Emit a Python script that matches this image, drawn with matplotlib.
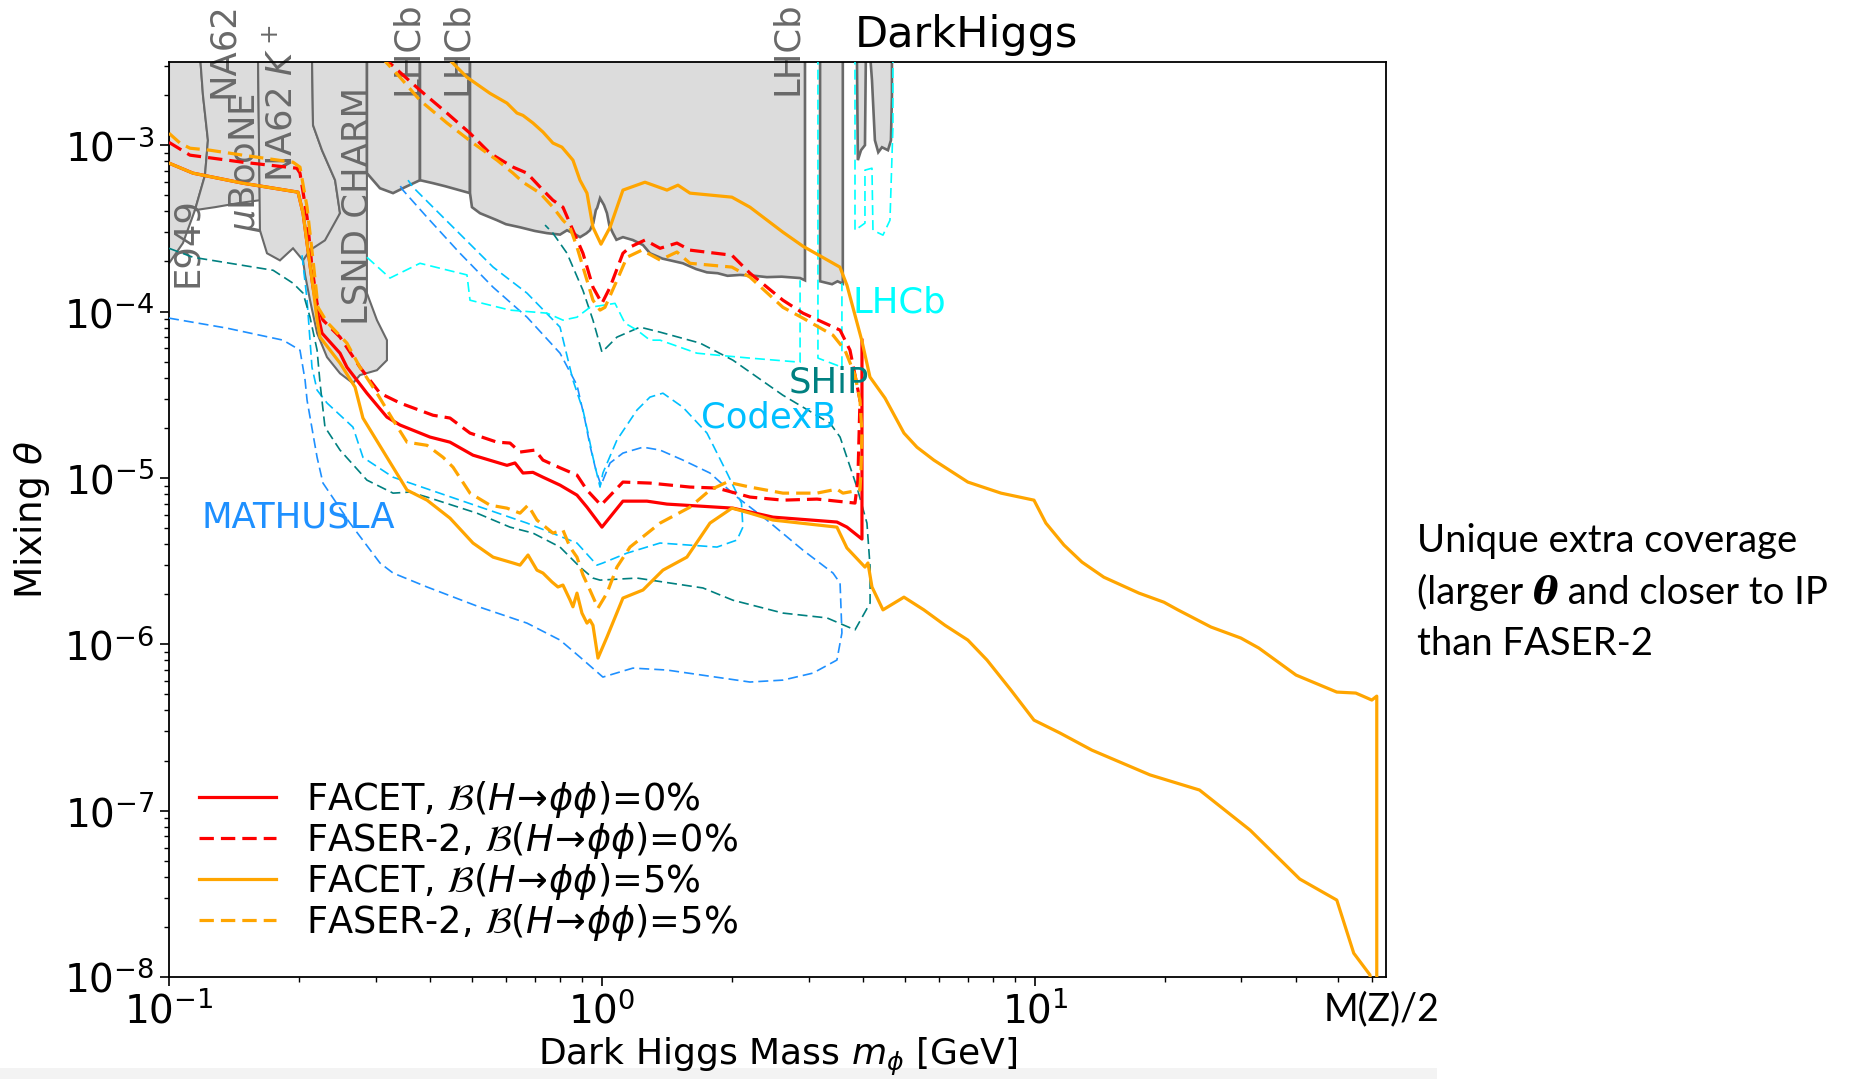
import matplotlib
matplotlib.use("Agg")
import matplotlib.pyplot as plt
from matplotlib.patches import Rectangle

# ---------------- existing limits (grey) ----------------
e949_m = [0.1, 0.1179, 0.1198, 0.1230, 0.1211, 0.1148, 0.1077, 0.1]
e949_th = [3.5e-3, 3.5e-3, 2.0e-3, 1.07e-3, 6.6e-4, 4.07e-4, 2.58e-4, 1.95e-4]

uboone_m = [0.1179, 0.1605, 0.1622, 0.1443, 0.1277, 0.1148, 0.1211, 0.1230, 0.1198]
uboone_th = [3.5e-3, 3.5e-3, 4.67e-4, 4.48e-4, 4.24e-4, 4.07e-4, 6.6e-4, 1.07e-3, 2.0e-3]

na62_m = [0.1605, 0.2139, 0.2151, 0.2256, 0.2419, 0.2483, 0.2393, 0.2198, 0.204, 0.1934,
          0.1804, 0.1684, 0.1622]
na62_th = [3.5e-3, 3.5e-3, 1.32e-3, 9.33e-4, 6.16e-4, 3.90e-4, 2.96e-4, 2.34e-4, 2.03e-4,
           2.40e-4, 2.03e-4, 2.24e-4, 3.08e-4]

lsnd_m = [0.2139, 0.2865, 0.2865, 0.3022, 0.3187, 0.3187, 0.3022, 0.2761, 0.266, 0.2483,
          0.2317, 0.2198, 0.2117, 0.2062, 0.204, 0.2117, 0.2292, 0.2483, 0.2419, 0.2256, 0.2151]
lsnd_th = [3.5e-3, 3.5e-3, 1.29e-4, 8.88e-5, 6.73e-5, 5.10e-5, 4.44e-5, 4.15e-5, 3.71e-5,
           4.25e-5, 5.32e-5, 7.42e-5, 1.17e-4, 1.66e-4, 2.03e-4, 2.34e-4, 2.68e-4, 3.90e-4,
           6.16e-4, 9.33e-4, 1.32e-3]

lhcb1_m = [0.2865, 0.3799, 0.3799, 0.3508, 0.3292, 0.3071, 0.2865]
lhcb1_th = [3.5e-3, 3.5e-3, 6.16e-4, 5.59e-4, 5.15e-4, 5.51e-4, 6.79e-4]

lhcb2_m = [0.3799, 0.4957, 0.4957, 0.434, 0.4073, 0.3799]
lhcb2_th = [3.5e-3, 3.5e-3, 5.15e-4, 5.67e-4, 5.91e-4, 6.16e-4]

lhcb3_m = [0.4957, 2.944, 2.944, 2.868, 2.6, 2.404, 2.25, 2.084, 1.95, 1.85, 1.748, 1.65, 1.538,
           1.45, 1.38, 1.291, 1.244, 1.179, 1.118, 1.08, 1.060, 1.04, 1.027, 1.011, 0.9898,
           0.975, 0.968, 0.955, 0.938, 0.92, 0.8899, 0.86, 0.8304, 0.80, 0.7464, 0.70, 0.6467,
           0.60, 0.5722, 0.5228, 0.5009, 0.4957]
lhcb3_th = [3.5e-3, 3.5e-3, 1.54e-4, 1.59e-4, 1.62e-4, 1.61e-4, 1.64e-4, 1.66e-4, 1.64e-4,
            1.70e-4, 1.72e-4, 1.80e-4, 1.95e-4, 2.02e-4, 2.08e-4, 2.24e-4, 2.51e-4, 2.69e-4,
            2.80e-4, 2.70e-4, 2.96e-4, 3.3e-4, 3.90e-4, 4.36e-4, 4.80e-4, 4.2e-4, 4.07e-4,
            3.4e-4, 3.08e-4, 2.95e-4, 2.80e-4, 2.95e-4, 3.08e-4, 2.90e-4, 2.96e-4, 3.05e-4,
            3.21e-4, 3.35e-4, 3.54e-4, 3.90e-4, 4.24e-4, 5.15e-4]

lhcb4_m = [3.19, 3.60, 3.60, 3.50, 3.40, 3.19]
lhcb4_th = [3.5e-3, 3.5e-3, 1.47e-4, 1.52e-4, 1.46e-4, 1.52e-4]

lhcb5_m = [3.88, 4.07, 4.05, 3.966, 3.90]
lhcb5_th = [3.5e-3, 3.5e-3, 1.0e-3, 9.33e-4, 8.13e-4]

lhcb6_m = [4.162, 4.675, 4.675, 4.65, 4.577, 4.434, 4.347, 4.27, 4.204]
lhcb6_th = [3.5e-3, 3.5e-3, 2.0e-3, 1.07e-3, 9.33e-4, 9.72e-4, 9.07e-4, 1.07e-3, 2.46e-3]

# ---------------- future experiments (thin dashed) ----------------
math_m = [0.1, 0.136, 0.1834, 0.2007, 0.2062, 0.2084, 0.2198, 0.2268, 0.2618, 0.3071, 0.3292,
          0.3944, 0.5228, 0.6713, 0.8001, 0.8899, 1.005, 1.179, 1.413, 2.197, 2.618, 3.071,
          3.489, 3.583, 3.548, 3.417, 2.912, 2.404, 2.05, 1.776, 1.538, 1.362, 1.244, 1.118,
          1.044, 0.9948, 0.9685, 0.938, 0.9135, 0.8756, 0.8001, 0.6713, 0.5605, 0.47, 0.3944,
          0.3469, 0.338]
math_th = [9.13e-5, 7.95e-5, 6.73e-5, 5.86e-5, 3.87e-5, 2.93e-5, 1.33e-5, 9.31e-6, 5.35e-6,
           3.08e-6, 2.68e-6, 2.21e-6, 1.67e-6, 1.34e-6, 1.06e-6, 8.37e-7, 6.35e-7, 7.19e-7,
           7.00e-7, 5.93e-7, 6.09e-7, 6.71e-7, 8.04e-7, 1.17e-6, 2.33e-6, 2.68e-6, 3.68e-6,
           5.58e-6, 7.67e-6, 1.07e-5, 1.28e-5, 1.47e-5, 1.53e-5, 1.41e-5, 1.23e-5, 9.05e-6,
           1.11e-5, 1.57e-5, 2.23e-5, 3.61e-5, 5.62e-5, 9.25e-5, 1.40e-4, 2.24e-4, 3.69e-4,
           5.37e-4, 5.99e-4]

codex_m = [0.2029, 0.2084, 0.2139, 0.2198, 0.2317, 0.266, 0.2805, 0.3292, 0.47, 0.6713, 0.8756,
           0.9738, 1.005, 1.142, 1.362, 1.844, 2.05, 2.116, 2.10, 1.945, 1.748, 1.538, 1.383,
           1.291, 1.205, 1.083, 1.005, 0.9898, 0.9533, 0.9284, 0.9039, 0.857, 0.8001, 0.6713,
           0.5605, 0.4295, 0.3661, 0.3565]
codex_th = [2.18e-4, 1.17e-4, 4.63e-5, 3.37e-5, 2.82e-5, 2.02e-5, 1.33e-5, 1.01e-5, 7.35e-6,
            5.35e-6, 4.06e-6, 2.99e-6, 3.08e-6, 3.53e-6, 4.06e-6, 3.84e-6, 4.23e-6, 5.06e-6,
            7.06e-6, 1.07e-5, 1.86e-5, 2.66e-5, 3.23e-5, 3.06e-5, 2.56e-5, 1.69e-5, 1.07e-5,
            8.81e-6, 1.33e-5, 1.86e-5, 2.56e-5, 3.87e-5, 8.06e-5, 1.29e-4, 1.85e-4, 3.69e-4,
            5.59e-4, 6.16e-4]

ship_m = [0.1, 0.1136, 0.174, 0.1934, 0.204, 0.2117, 0.2198, 0.2233, 0.2292, 0.2483, 0.2865,
          0.3292, 0.3602, 0.3944, 0.5143, 0.6132, 0.6927, 0.8001, 0.8899, 0.9533, 0.9898, 1.205,
          1.711, 2.007, 2.618, 3.31, 3.841, 4.162, 4.162, 4.093, 3.88, 3.548, 3.364, 2.618,
          2.007, 1.685, 1.362, 1.224, 1.083, 1.0, 0.9533, 0.9039, 0.8304, 0.7704, 0.7389]
ship_th = [2.40e-4, 2.12e-4, 1.77e-4, 1.48e-4, 1.29e-4, 9.25e-5, 5.86e-5, 3.71e-5, 2.02e-5,
           1.47e-5, 9.70e-6, 8.10e-6, 8.22e-6, 7.67e-6, 6.14e-6, 5.06e-6, 4.66e-6, 3.84e-6,
           2.91e-6, 2.50e-6, 2.43e-6, 2.50e-6, 2.18e-6, 1.84e-6, 1.54e-6, 1.44e-6, 1.22e-6,
           1.77e-6, 2.91e-6, 5.35e-6, 8.81e-6, 1.76e-5, 2.13e-5, 3.14e-5, 5.10e-5, 6.46e-5,
           7.52e-5, 8.06e-5, 7.02e-5, 5.70e-5, 8.88e-5, 1.34e-4, 2.24e-4, 2.96e-4, 3.31e-4]

lhcb_a_m = [0.2865, 0.3239, 0.3799, 0.4878, 0.4957, 0.6132, 0.7464, 0.8126, 0.8756, 0.938,
            1.072, 1.130, 1.205, 1.291, 1.362, 1.657, 1.844, 2.197, 2.868, 2.868]
lhcb_a_th = [2.12e-4, 1.59e-4, 1.95e-4, 1.66e-4, 1.17e-4, 1.02e-4, 9.78e-5, 8.88e-5, 9.25e-5,
             1.06e-4, 1.12e-4, 8.52e-5, 7.73e-5, 6.73e-5, 6.73e-5, 5.62e-5, 5.47e-5, 5.25e-5,
             4.96e-5, 1.54e-4]
lhcb_b_m = [3.154, 3.154, 3.583, 3.583]
lhcb_b_th = [3.5e-3, 5.25e-5, 4.63e-5, 1.48e-4]
lhcb_c_m = [3.841, 3.841, 4.05, 4.05, 4.204, 4.226, 4.457, 4.626, 4.699, 4.699]
lhcb_c_th = [3.5e-3, 3.08e-4, 3.40e-4, 7.08e-4, 7.27e-4, 3.08e-4, 2.88e-4, 3.54e-4, 1.28e-3, 3.5e-3]

# ---------------- FACET / FASER-2 reach ----------------
# FACET, B(H->phi phi) = 0 %
f0_m = [0.1, 0.1136, 0.148, 0.1986, 0.204, 0.2094, 0.2151, 0.2209, 0.2256, 0.2483, 0.2576,
        0.2865, 0.3187, 0.3416, 0.4007, 0.4457, 0.5036, 0.6034, 0.6297, 0.657, 0.6927, 0.7306,
        0.8001, 0.8756, 0.9234, 1.0, 1.118, 1.270, 1.413, 2.007, 2.483, 3.489, 3.680, 3.986,
        3.986]
f0_th = [7.80e-4, 6.79e-4, 5.91e-4, 5.22e-4, 3.90e-4, 2.34e-4, 1.40e-4, 9.52e-5, 7.42e-5,
         5.62e-5, 4.63e-5, 3.23e-5, 2.32e-5, 2.08e-5, 1.76e-5, 1.64e-5, 1.37e-5, 1.19e-5,
         1.23e-5, 1.07e-5, 1.08e-5, 1.01e-5, 9.05e-6, 7.88e-6, 6.67e-6, 5.06e-6, 7.25e-6,
         7.25e-6, 6.96e-6, 6.58e-6, 5.81e-6, 5.43e-6, 5.06e-6, 4.29e-6, 6.73e-5]

# FASER-2, B = 0 %: lower edge (incl. the turn at high mass) and upper edge
fs0_lo_m = [0.1, 0.1118, 0.148, 0.1974, 0.2007, 0.2084, 0.2139, 0.2198, 0.2268, 0.2483,
            0.2761, 0.3071, 0.3416, 0.4073, 0.4457, 0.4957, 0.5722, 0.6132, 0.6467, 0.7003,
            0.7306, 0.8001, 0.8756, 0.9234, 0.9948, 1.118, 1.291, 1.597, 1.844, 2.197, 2.618,
            3.137, 3.841, 3.90, 3.944, 3.841, 3.74, 3.548]
fs0_lo_th = [1.04e-3, 8.71e-4, 7.90e-4, 7.27e-4, 6.79e-4, 3.69e-4, 1.85e-4, 1.12e-4, 8.88e-5,
             7.02e-5, 4.63e-5, 3.23e-5, 2.82e-5, 2.38e-5, 2.29e-5, 1.86e-5, 1.64e-5, 1.62e-5,
             1.43e-5, 1.47e-5, 1.28e-5, 1.15e-5, 1.04e-5, 8.45e-6, 6.86e-6, 9.44e-6, 9.31e-6,
             8.81e-6, 8.69e-6, 7.67e-6, 7.35e-6, 7.46e-6, 7.06e-6, 9.70e-6, 2.93e-5, 4.15e-5,
             5.86e-5, 7.73e-5]
fs0_up_m = [0.312, 0.3236, 0.3799, 0.4385, 0.4957, 0.5512, 0.6232, 0.6713, 0.7306, 0.7704,
            0.8126, 0.857, 0.9039, 0.9533, 1.0, 1.044, 1.118, 1.161, 1.257, 1.362, 1.490, 1.597,
            1.996, 2.197, 2.618, 2.912]
fs0_up_th = [3.47e-3, 3.11e-3, 2.14e-3, 1.56e-3, 1.18e-3, 8.95e-4, 7.38e-4, 6.79e-4, 5.37e-4,
             4.67e-4, 4.24e-4, 3.08e-4, 2.24e-4, 1.40e-4, 1.12e-4, 1.40e-4, 2.24e-4, 2.44e-4,
             2.69e-4, 2.40e-4, 2.58e-4, 2.34e-4, 2.18e-4, 1.70e-4, 1.17e-4, 9.78e-5]

# FACET, B = 5 %
f5_lo_m = [0.1, 0.1136, 0.148, 0.1986, 0.204, 0.2094, 0.2151, 0.2198, 0.2233, 0.2483, 0.2690,
           0.2805, 0.3187, 0.3546, 0.3944, 0.4457, 0.5036, 0.5605, 0.6232, 0.6467, 0.6749,
           0.7077, 0.7306, 0.7664, 0.7913, 0.8126, 0.8435, 0.857, 0.8756, 0.899, 0.9234, 0.938,
           0.9533, 0.979, 1.027, 1.118, 1.244, 1.383, 1.571, 1.776, 1.996, 2.197, 2.483, 3.489,
           3.680, 4.050, 4.115, 4.204, 4.457, 4.983, 5.54, 6.20, 7.00, 7.75, 8.80, 9.95, 11.42,
           13.54, 18.44, 24.0, 31.4, 40.9, 49.8, 54.5, 59.4, 60.0]
f5_lo_th = [7.80e-4, 6.79e-4, 5.91e-4, 5.22e-4, 3.90e-4, 2.34e-4, 1.40e-4, 8.88e-5, 7.02e-5,
            4.90e-5, 3.51e-5, 2.29e-5, 1.33e-5, 8.45e-6, 7.35e-6, 5.73e-6, 4.06e-6, 3.34e-6,
            3.08e-6, 2.99e-6, 3.44e-6, 2.79e-6, 2.68e-6, 2.37e-6, 2.21e-6, 2.27e-6, 1.85e-6,
            1.68e-6, 2.03e-6, 1.54e-6, 1.34e-6, 1.40e-6, 1.30e-6, 8.26e-7, 1.105e-6, 1.895e-6,
            2.12e-6, 2.79e-6, 3.34e-6, 5.35e-6, 6.58e-6, 6.14e-6, 5.58e-6, 5.06e-6, 3.79e-6,
            2.91e-6, 3.08e-6, 2.21e-6, 1.61e-6, 1.92e-6, 1.61e-6, 1.30e-6, 1.06e-6, 8.04e-7,
            5.31e-7, 3.50e-7, 2.93e-7, 2.31e-7, 1.64e-7, 1.33e-7, 7.64e-8, 3.88e-8, 2.90e-8,
            1.39e-8, 1.03e-8, 8e-9]
f5_up_m = [0.434, 0.4878, 0.5512, 0.6034, 0.6364, 0.657, 0.6927, 0.7306, 0.7704, 0.8082, 0.857,
           0.8897, 0.9234, 0.9533, 0.9948, 1.044, 1.118, 1.257, 1.413, 1.498, 1.597, 1.996,
           2.197, 2.618, 2.912, 3.545, 3.680, 3.986, 4.159, 4.505, 4.983, 5.34, 5.84, 7.00, 8.35,
           9.95, 10.6, 11.67, 12.84, 14.43, 17.39, 19.86, 21.39, 25.5, 29.9, 32.9, 40.1, 49.8,
           55.1, 57.2, 60.0, 61.6, 61.6]
f5_up_th = [3.47e-3, 2.56e-3, 2.05e-3, 1.79e-3, 1.56e-3, 1.51e-3, 1.36e-3, 1.20e-3, 1.03e-3,
            9.73e-4, 8.13e-4, 6.16e-4, 5.15e-4, 3.21e-4, 2.54e-4, 3.21e-4, 5.37e-4, 5.99e-4,
            5.37e-4, 5.75e-4, 5.15e-4, 4.87e-4, 4.24e-4, 3.00e-4, 2.47e-4, 1.85e-4, 1.44e-4,
            6.64e-5, 4.04e-5, 3.02e-5, 1.86e-5, 1.53e-5, 1.28e-5, 9.44e-6, 8.10e-6, 7.35e-6,
            5.35e-6, 3.95e-6, 3.12e-6, 2.53e-6, 2.03e-6, 1.79e-6, 1.61e-6, 1.27e-6, 1.09e-6,
            9.49e-7, 6.53e-7, 5.16e-7, 5.09e-7, 4.88e-7, 4.62e-7, 4.88e-7, 8e-9]

# FASER-2, B = 5 %
fs5_lo_m = [0.1, 0.106, 0.1118, 0.1243, 0.148, 0.1934, 0.2007, 0.2084, 0.2151, 0.2209, 0.2317,
            0.2576, 0.2760, 0.3022, 0.3292, 0.3546, 0.3944, 0.4295, 0.4529, 0.4957, 0.5512,
            0.6034, 0.6467, 0.6749, 0.7077, 0.7704, 0.8126, 0.8435, 0.8756, 0.9039, 0.938, 0.979,
            1.027, 1.083, 1.161, 1.362, 1.597, 1.776, 1.945, 2.197, 2.618, 3.137, 3.489, 3.602,
            3.944, 3.966, 3.986, 3.944, 3.841, 3.641]
fs5_lo_th = [1.18e-3, 1.03e-3, 9.59e-4, 9.33e-4, 8.71e-4, 7.90e-4, 7.38e-4, 4.24e-4, 2.04e-4,
             1.06e-4, 8.64e-5, 6.46e-5, 4.63e-5, 3.23e-5, 2.23e-5, 1.64e-5, 1.57e-5, 1.33e-5,
             1.16e-5, 8.10e-6, 6.86e-6, 6.58e-6, 6.14e-6, 6.86e-6, 5.58e-6, 4.66e-6, 4.86e-6,
             3.84e-6, 3.34e-6, 2.61e-6, 2.12e-6, 1.65e-6, 2.03e-6, 2.91e-6, 3.84e-6, 5.35e-6,
             6.67e-6, 8.45e-6, 9.44e-6, 8.81e-6, 8.10e-6, 8.10e-6, 8.56e-6, 8.10e-6, 8.45e-6,
             1.11e-5, 1.86e-5, 2.93e-5, 4.15e-5, 5.86e-5]
fs5_up_m = [0.3074, 0.3187, 0.3416, 0.3799, 0.4385, 0.5036, 0.5722, 0.6232, 0.657, 0.7193,
            0.7704, 0.8126, 0.8435, 0.8756, 0.9234, 0.9533, 0.9898, 1.016, 1.083, 1.142, 1.237,
            1.362, 1.490, 1.597, 1.996, 2.197, 2.618, 2.912, 3.417]
fs5_up_th = [3.47e-3, 3.11e-3, 2.56e-3, 1.86e-3, 1.36e-3, 1.03e-3, 8.13e-4, 6.79e-4, 5.99e-4,
             5.15e-4, 4.24e-4, 3.54e-4, 3.21e-4, 2.44e-4, 1.54e-4, 1.17e-4, 1.02e-4, 1.06e-4,
             1.54e-4, 2.12e-4, 2.34e-4, 2.04e-4, 2.28e-4, 1.95e-4, 1.85e-4, 1.61e-4, 1.06e-4,
             9.13e-5, 7.21e-5]

W, H = 1850, 1079
fig = plt.figure(figsize=(W / 100, H / 100), dpi=100)
ax = fig.add_axes([169 / W, 1 - 977 / H, 1217 / W, 915 / H])
ax.set_xscale("log")
ax.set_yscale("log")

grey_fill, grey_edge = "gainsboro", "dimgray"
for m, th in [(e949_m, e949_th), (uboone_m, uboone_th), (na62_m, na62_th), (lsnd_m, lsnd_th)]:
    ax.fill(m, th, facecolor=grey_fill, edgecolor=grey_edge, lw=1.5, zorder=1)
for m, th in [(lhcb1_m, lhcb1_th), (lhcb2_m, lhcb2_th), (lhcb3_m, lhcb3_th), (lhcb4_m, lhcb4_th),
              (lhcb5_m, lhcb5_th), (lhcb6_m, lhcb6_th)]:
    ax.fill(m, th, facecolor=grey_fill, edgecolor=grey_edge, lw=1.9, zorder=1)

thin = dict(lw=1.2, dashes=(6, 3), zorder=3)
ax.plot(math_m, math_th, color="dodgerblue", **thin)
ax.plot(codex_m, codex_th, color="deepskyblue", **thin)
ax.plot(ship_m, ship_th, color="teal", **thin)
for m, th in [(lhcb_a_m, lhcb_a_th), (lhcb_b_m, lhcb_b_th), (lhcb_c_m, lhcb_c_th)]:
    ax.plot(m, th, color="cyan", **thin)

lw = 2.3
dash = (4.5, 2.2)
br = r"$\mathcal{B}(H\!\rightarrow\!\phi\phi)$"
ax.plot(f0_m, f0_th, color="red", lw=lw, zorder=4, label="FACET, " + br + "=0%")
ax.plot(fs0_lo_m + fs0_up_m[::-1], fs0_lo_th + fs0_up_th[::-1], color="red", lw=lw,
        dashes=dash, zorder=4, label="FASER-2, " + br + "=0%")
ax.plot(f5_up_m + f5_lo_m[::-1], f5_up_th + f5_lo_th[::-1], color="orange", lw=lw, zorder=5,
        label="FACET, " + br + "=5%")
ax.plot(fs5_lo_m + fs5_up_m[::-1], fs5_lo_th + fs5_up_th[::-1], color="orange", lw=lw,
        dashes=dash, zorder=5, label="FASER-2, " + br + "=5%")

ax.set_xlim(0.1, 64.7)
ax.set_ylim(1e-8, 10 ** -2.5)

# experiment names
gkw = dict(rotation=90, ha="center", va="bottom", color="dimgray", fontsize=25.5, zorder=2)
ax.text(0.110, 1.40e-4, "E949", **gkw)
ax.text(0.133, 1.92e-3, "NA62", **gkw)
ax.text(0.150, 3.0e-4, r"$\mu$BooNE", **gkw)
ax.text(0.182, 6.0e-4, r"NA62 $K^+$", **gkw)
ax.text(0.272, 8.3e-5, "LSND CHARM", **gkw)
for m in [0.355, 0.463, 2.67]:
    ax.text(m, 2.0e-3, "LHCb", **gkw)

ckw = dict(ha="left", va="baseline", fontsize=25.5, zorder=6)
ax.text(3.80, 9.9e-5, "LHCb", color="cyan", **ckw)
ax.text(2.70, 3.24e-5, "SHiP", color="teal", **ckw)
ax.text(1.69, 2.02e-5, "CodexB", color="deepskyblue", **ckw)
ax.text(0.119, 5.06e-6, "MATHUSLA", color="dodgerblue", **ckw)

ax.set_xlabel(r"Dark Higgs Mass $m_\phi$ [GeV]", fontsize=26, labelpad=3)
ax.set_ylabel(r"Mixing $\theta$", fontsize=27, labelpad=9)
ax.tick_params(which="major", length=6.5, width=1.2, labelsize=28, pad=4)
ax.tick_params(which="minor", length=3.8, width=1.0)
for s in ax.spines.values():
    s.set_linewidth(1.3)

ax.legend(loc="lower left", bbox_to_anchor=(0.0125, 0.021), borderaxespad=0, frameon=False,
          fontsize=26.5, handlelength=2.1, handletextpad=0.8, labelspacing=0.0)

fig.text(966 / W, 1 - 47 / H, "DarkHiggs", ha="center", va="baseline", fontsize=31)
fig.text(1382 / W, 1 - 1020 / H, "M(Z)/2", ha="center", va="baseline", fontsize=27,
         family="Lato")

# side note
nkw = dict(va="baseline", fontsize=27.5, family="Lato")
x0 = 1417 / W
fig.text(x0, 1 - 552 / H, "Unique extra coverage", **nkw)
fig.text(x0, 1 - 655 / H, "than FASER-2", **nkw)
r = fig.canvas.get_renderer()
t = fig.text(x0, 1 - 604 / H, "(larger ", **nkw)
x1 = t.get_window_extent(r).x1 / W
t = fig.text(x1, 1 - 604 / H, "θ", va="baseline", fontsize=27.5, family="DejaVu Serif",
             fontweight="bold", fontstyle="italic")
x2 = t.get_window_extent(r).x1 / W
fig.text(x2, 1 - 604 / H, " and closer to IP", **nkw)

fig.patches.append(Rectangle((0, 0), 1437 / W, 11 / H, transform=fig.transFigure,
                             facecolor="#f3f3f3", edgecolor="none", zorder=-1))

fig.savefig("out.png", dpi=100)
